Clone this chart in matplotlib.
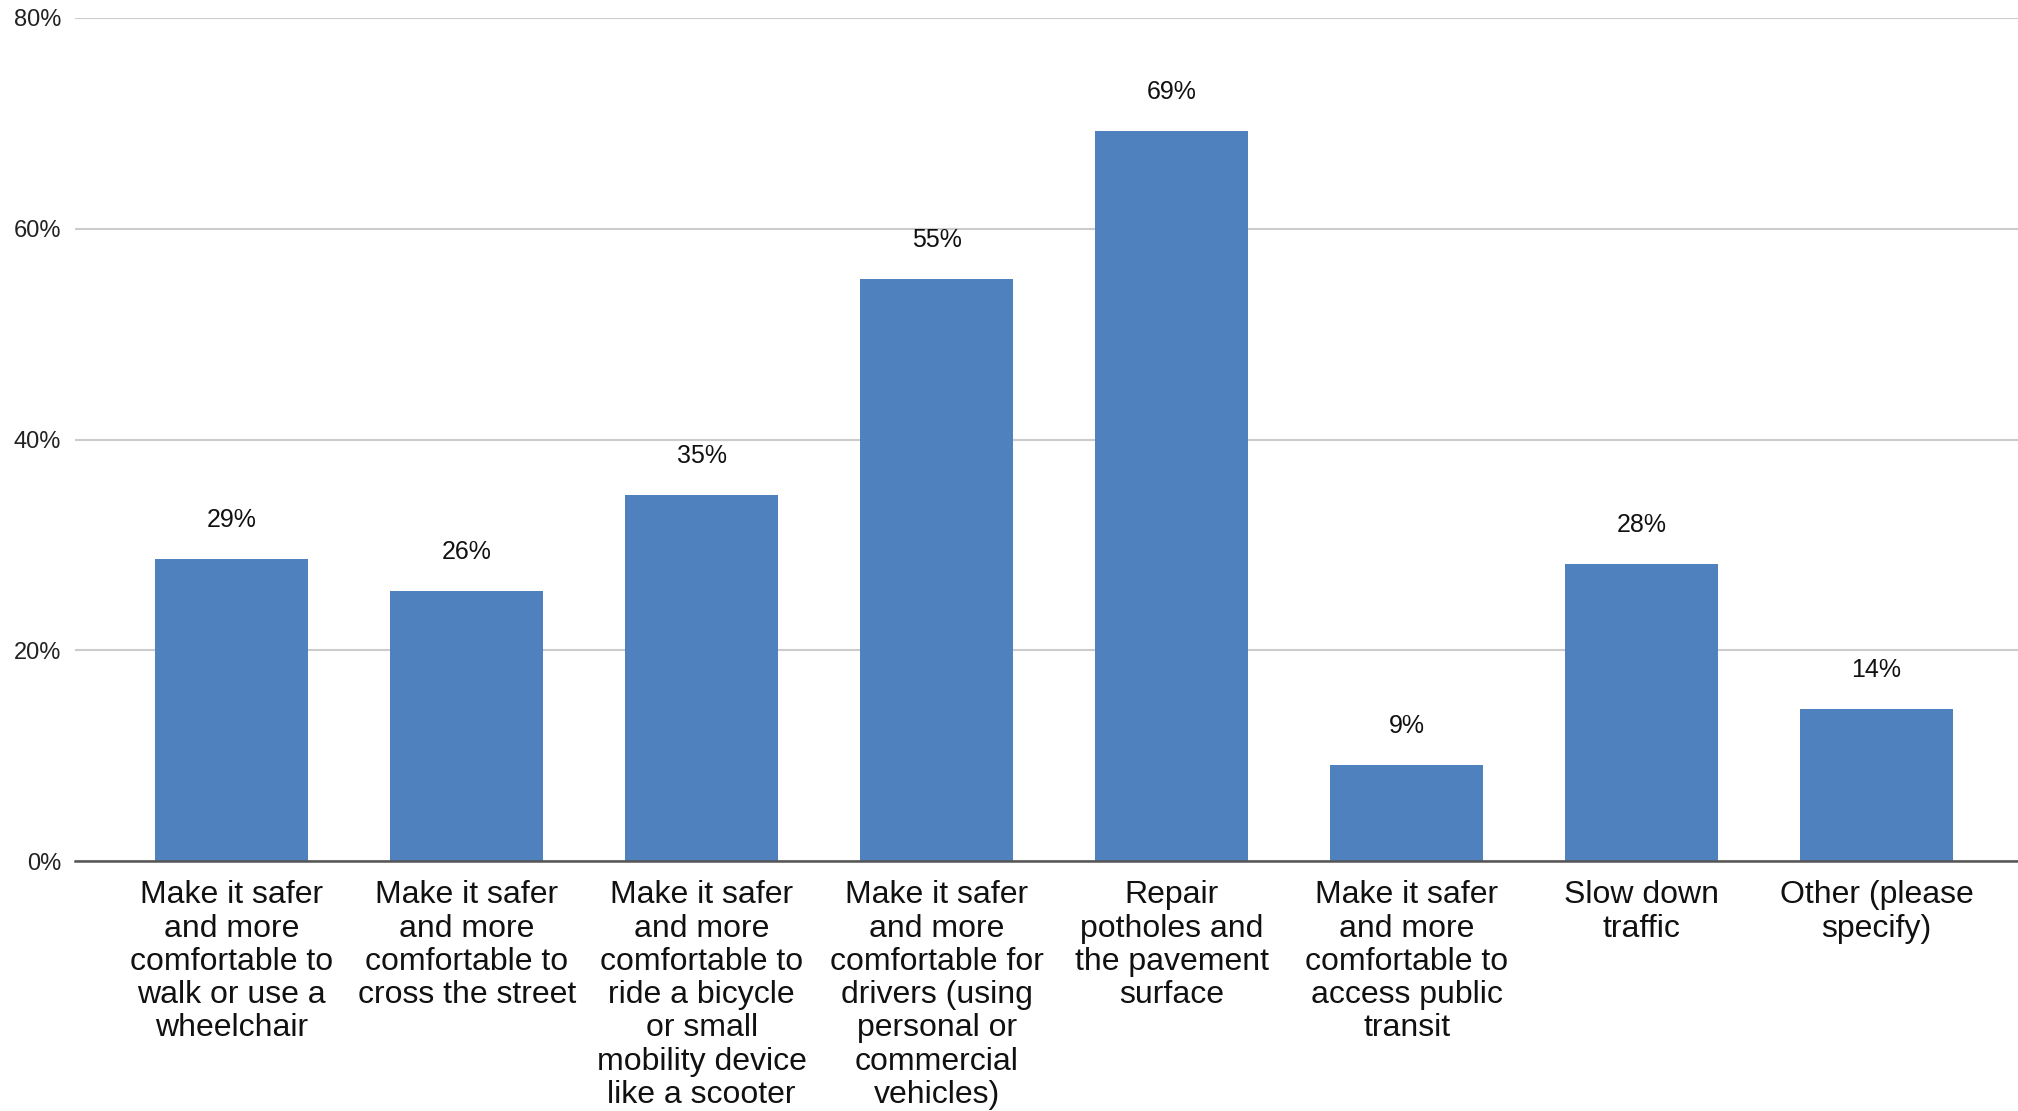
import matplotlib.pyplot as plt
import numpy as np

plt.rcParams['font.family'] = ['Liberation Sans', 'DejaVu Sans']

categories = [
    "Make it safer\nand more\ncomfortable to\nwalk or use a\nwheelchair",
    "Make it safer\nand more\ncomfortable to\ncross the street",
    "Make it safer\nand more\ncomfortable to\nride a bicycle\nor small\nmobility device\nlike a scooter",
    "Make it safer\nand more\ncomfortable for\ndrivers (using\npersonal or\ncommercial\nvehicles)",
    "Repair\npotholes and\nthe pavement\nsurface",
    "Make it safer\nand more\ncomfortable to\naccess public\ntransit",
    "Slow down\ntraffic",
    "Other (please\nspecify)",
]
values = [28.7, 25.6, 34.7, 55.2, 69.3, 9.1, 28.2, 14.4]
yticks = [0, 20, 40, 60, 80]

fig = plt.figure(figsize=(20.18, 11.11), dpi=100)
ax = fig.add_axes([75 / 2018, 0.225, 1 - 75 / 2018, 0.9838 - 0.225])

x = np.arange(len(values))
bars = ax.bar(x, values, width=0.65, color='#4e81bd', zorder=3)

for b, v in zip(bars, values):
    ax.annotate(f"{round(v)}%", (b.get_x() + b.get_width() / 2, v),
                xytext=(0, 28), textcoords='offset points',
                ha='center', va='center', fontsize=18, color='#111111')

ax.set_xlim(-0.667, 7.602)
ax.set_ylim(0, 80)
ax.set_yticks(yticks)
ax.set_yticklabels([f"{t}%" for t in yticks], fontsize=17, color='#222222')
ax.set_xticks(x)
ax.set_xticklabels(categories, fontsize=23, linespacing=1.14, color='#111111')
ax.tick_params(axis='both', length=0)
ax.tick_params(axis='y', pad=10)
ax.tick_params(axis='x', pad=14)

ax.grid(axis='y', color='#cccccc', linewidth=1.5, zorder=0)
for s in ['top', 'right', 'left']:
    ax.spines[s].set_visible(False)
ax.spines['bottom'].set_color('#555555')
ax.spines['bottom'].set_linewidth(1.8)
ax.spines['bottom'].set_zorder(4)

fig.savefig('out.png', dpi=100)
